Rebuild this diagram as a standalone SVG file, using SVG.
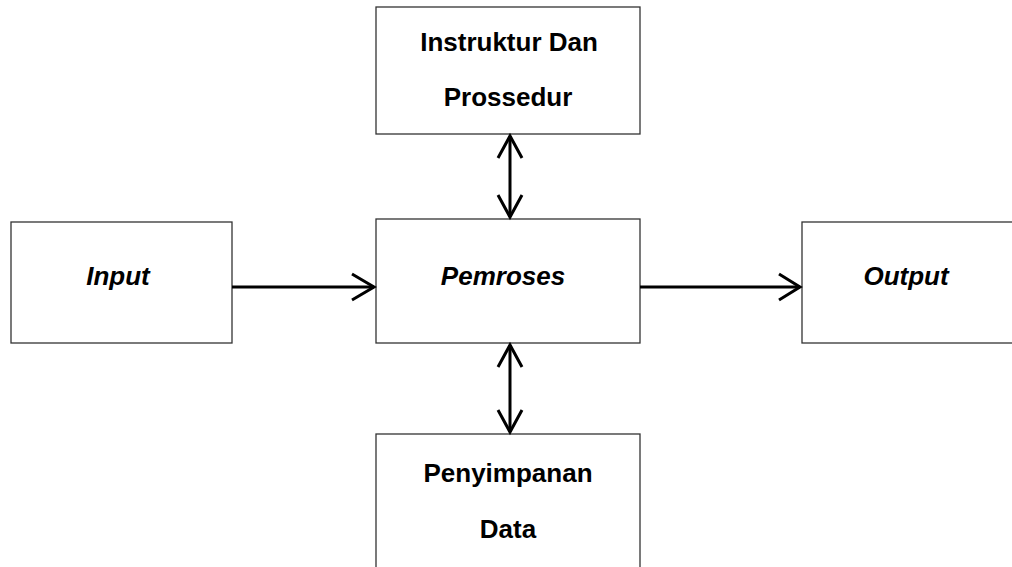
<svg xmlns="http://www.w3.org/2000/svg" width="1012" height="567" viewBox="0 0 1012 567">
<style>
.box{fill:#fff;stroke:#333;stroke-width:1.3}
.t{font-family:"Liberation Sans",Arial,sans-serif;font-size:26px;font-weight:bold;fill:#000;text-anchor:middle}
.i{font-style:italic}
.c{stroke:#000;stroke-width:3;fill:none}
.h{stroke:#000;stroke-width:3;fill:none;stroke-linecap:butt;stroke-linejoin:miter}
</style>
<rect width="1012" height="567" fill="#fff"/>
<g id="instruktur">
<rect class="box" x="376" y="7" width="264" height="127"/>
<text class="t" x="509" y="51">Instruktur Dan</text>
<text class="t" x="508" y="106">Prossedur</text>
</g>
<g id="input">
<rect class="box" x="11" y="222" width="221" height="121"/>
<text class="t i" x="118" y="285">Input</text>
</g>
<g id="pemroses">
<rect class="box" x="376" y="219" width="264" height="124"/>
<text class="t i" x="503" y="285">Pemroses</text>
</g>
<g id="output">
<rect class="box" x="802" y="222" width="215" height="121"/>
<text class="t i" x="906" y="285">Output</text>
</g>
<g id="penyimpanan">
<rect class="box" x="376" y="434" width="264" height="140"/>
<text class="t" x="508" y="482">Penyimpanan</text>
<text class="t" x="508" y="538">Data</text>
</g>
<g id="connectors">
<line class="c" x1="232" y1="287" x2="374" y2="287"/>
<polyline class="h" points="352,274 374,287 352,300"/>
<line class="c" x1="640" y1="287" x2="800" y2="287"/>
<polyline class="h" points="779,274 800,287 779,300"/>
<line class="c" x1="510" y1="136" x2="510" y2="217"/>
<polyline class="h" points="498,158 510,136 522,158"/>
<polyline class="h" points="498,195 510,217 522,195"/>
<line class="c" x1="510" y1="345" x2="510" y2="432"/>
<polyline class="h" points="498,367 510,345 522,367"/>
<polyline class="h" points="498,410 510,432 522,410"/>
</g>
</svg>
